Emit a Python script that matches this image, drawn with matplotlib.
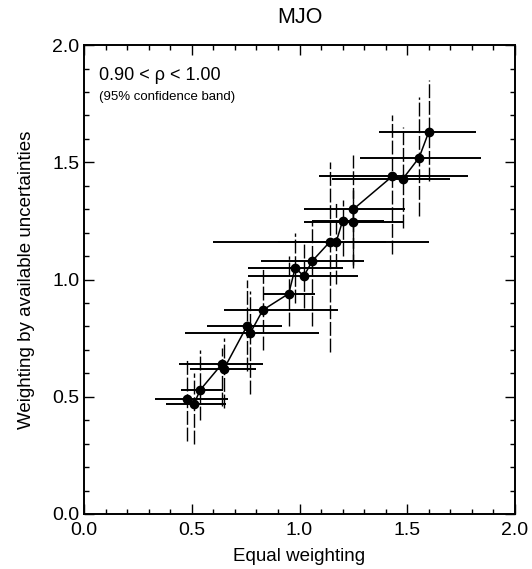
import matplotlib
matplotlib.use("Agg")
import matplotlib.pyplot as plt
from matplotlib.ticker import MultipleLocator
import numpy as np

plt.rcParams['font.family'] = ['Liberation Sans', 'DejaVu Sans']

# Data
x_equal = [0.48, 0.51, 0.54, 0.64, 0.65, 0.755, 0.77, 0.83, 0.95, 0.98, 1.02,
           1.06, 1.14, 1.17, 1.20, 1.25, 1.25, 1.43, 1.48, 1.555, 1.60]
y_weighted = [0.49, 0.47, 0.53, 0.64, 0.62, 0.80, 0.77, 0.87, 0.94, 1.05, 1.015,
              1.08, 1.16, 1.16, 1.25, 1.245, 1.30, 1.44, 1.43, 1.52, 1.63]
x_low = [0.33, 0.38, 0.45, 0.44, 0.49, 0.57, 0.47, 0.65, 0.83, 0.76, 0.76,
         0.82, 0.60, 0.90, 1.06, 1.02, 1.02, 1.09, 1.15, 1.28, 1.37]
x_high = [0.67, 0.66, 0.645, 0.83, 0.80, 0.92, 1.09, 1.18, 1.07, 1.20, 1.27,
          1.30, 1.60, 1.40, 1.39, 1.48, 1.49, 1.78, 1.70, 1.84, 1.82]
y_low = [0.31, 0.30, 0.40, 0.46, 0.45, 0.61, 0.51, 0.70, 0.80, 0.90, 0.88,
         0.80, 0.69, 0.98, 1.10, 1.06, 1.05, 1.11, 1.22, 1.27, 1.42]
y_high = [0.66, 0.60, 0.70, 0.71, 0.75, 1.00, 0.95, 1.05, 1.10, 1.20, 1.15,
          1.25, 1.50, 1.33, 1.34, 1.38, 1.53, 1.70, 1.65, 1.78, 1.85]

x_ticks = [0.0, 0.5, 1.0, 1.5, 2.0]
y_ticks = [0.0, 0.5, 1.0, 1.5, 2.0]

fig = plt.figure(figsize=(5.32, 5.69), dpi=100)
ax = fig.add_axes([0.158, 0.0967, 0.810, 0.824])

xv = np.array(x_equal); yv = np.array(y_weighted)
xerr = [xv - np.array(x_low), np.array(x_high) - xv]
yerr = [yv - np.array(y_low), np.array(y_high) - yv]

ax.errorbar(xv, yv, xerr=xerr, fmt='none', ecolor='black', elinewidth=1.4, capsize=0)
eb = ax.errorbar(xv, yv, yerr=yerr, fmt='none', ecolor='black', elinewidth=1.0, capsize=0)
for c in eb.lines[2]:
    c.set_linestyle((0, (10, 2)))
ax.plot(xv, yv, '-', color='black', lw=1.1)
ax.plot(xv, yv, 'o', color='black', ms=6)

ax.set_xlim(0, 2.0)
ax.set_ylim(0, 2.0)
ax.set_xticks(x_ticks)
ax.set_yticks(y_ticks)
ax.set_xticklabels([f"{t:.1f}" for t in x_ticks])
ax.set_yticklabels([f"{t:.1f}" for t in y_ticks])
ax.xaxis.set_minor_locator(MultipleLocator(0.1))
ax.yaxis.set_minor_locator(MultipleLocator(0.1))
ax.tick_params(which='both', direction='in', top=True, right=True, labelsize=14, width=1.0)
ax.tick_params(which='major', length=7)
ax.tick_params(which='minor', length=3.5)
ax.tick_params(axis='x', pad=6)
for s in ax.spines.values():
    s.set_linewidth(1.4)

ax.set_xlabel("Equal weighting", fontsize=13.5, labelpad=6)
ax.set_ylabel("Weighting by available uncertainties", fontsize=13.5, labelpad=12)
ax.set_title("MJO", fontsize=15.5, pad=16)

ax.text(0.035, 0.925, "0.90 < ρ < 1.00", transform=ax.transAxes, fontsize=13, va='baseline')
ax.text(0.035, 0.882, "(95% confidence band)", transform=ax.transAxes, fontsize=9.5, va='baseline')

fig.savefig("out.png", dpi=100)
